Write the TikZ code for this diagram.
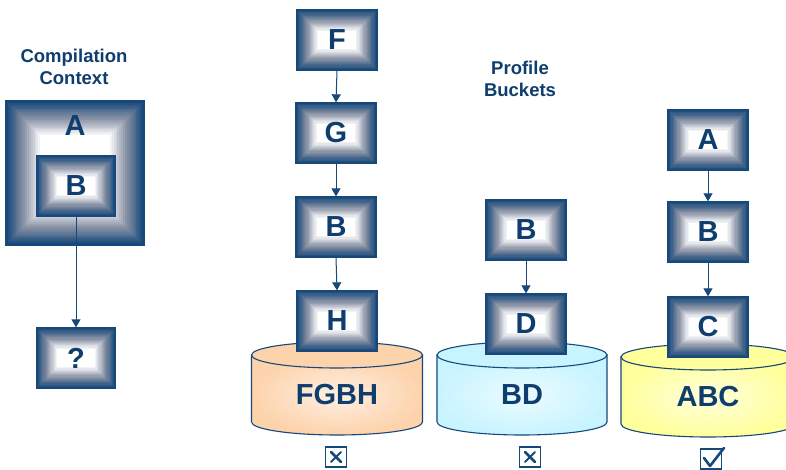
\documentclass[tikz,border=0pt]{standalone}
\usepackage{fontspec}
\setmainfont{Liberation Sans}
\usetikzlibrary{arrows.meta}
\definecolor{navy}{HTML}{17487A}
\definecolor{grayb}{HTML}{8A93A6}
\definecolor{txt}{HTML}{0E3D6E}
\definecolor{orangeb}{HTML}{FDD3AC}
\definecolor{cyanb}{HTML}{C8F4FF}
\definecolor{yellowb}{HTML}{FFFF9C}
\tikzset{
  gbox/.style={draw=navy, line width=1.3pt, minimum width=80pt, minimum height=60pt,
    inner sep=0pt, font=\fontsize{29}{32}\selectfont\bfseries, text=txt,
    path picture={
      \foreach \i in {0,...,23}{
        \pgfmathsetmacro\p{100*(1-\i/18)}
        \ifdim\p pt>50pt
          \pgfmathsetmacro\q{(\p-50)*2}
          \colorlet{bandc}{navy!\q!grayb}
        \else
          \ifdim\p pt<0pt \def\p{0}\fi
          \pgfmathsetmacro\q{\p*2}
          \colorlet{bandc}{grayb!\q!white}
        \fi
        \fill[bandc]
          ([xshift=\i*#1, yshift=\i*#1]path picture bounding box.south west) rectangle
          ([xshift=-\i*#1, yshift=-\i*#1]path picture bounding box.north east);
      }}},
  gbox/.default=1.15pt,
  conn/.style={draw=navy, line width=1pt, -{Triangle[length=8pt,width=9pt]}},
  head/.style={font=\fontsize{18.5}{22}\selectfont\bfseries, text=txt, align=center},
  blabel/.style={font=\fontsize{29}{32}\selectfont\bfseries, text=txt},
  chk/.style={draw=navy, line width=1.4pt, minimum width=21pt, minimum height=20pt, inner sep=0pt},
  tickmark/.style={draw=navy, line width=2.6pt, line cap=round, line join=round}
}
\newcommand\mybucket[8]{%
  \path[shade, inner color=white!65!#6, outer color=#6, draw=navy, line width=1.1pt]
    (#1-#4,#2) -- (#1-#4,#3)
    arc[start angle=180, end angle=360, x radius=#4pt, y radius=#5pt]
    -- (#1+#4,#2) -- cycle;
  \path[fill=#6, draw=navy, line width=1.1pt] (#1,#2) ellipse[x radius=#4pt, y radius=#5pt];
  \node[blabel] (#7) at (#1,#3-27) {#8};
}
\begin{document}
\begin{tikzpicture}[x=1pt,y=-1pt]
\clip (0,0) rectangle (786,470);
\fill[white] (0,0) rectangle (786,470);

% headings
\node[head] (hctx) at (74,67) {Compilation\\Context};
\node[head] (hpb) at (520,79) {Profile\\Buckets};

% compilation context
\node[gbox=1.9pt, minimum width=138pt, minimum height=144pt] (bigA) at (75,173) {};
\node[blabel] (lblA) at (75,126) {A};
\node[gbox=1.15pt, minimum width=79pt, minimum height=60pt] (cb) at (76,186) {B};
\node[gbox, minimum width=79pt, minimum height=60pt] (q) at (76,358) {?};
\draw[conn] (cb.south) -- (q.north);

% buckets
\mybucket{337}{355}{422}{85.5}{13}{orangeb}{lf}{FGBH}
\mybucket{522}{355}{422}{85}{13}{cyanb}{lb}{BD}
\mybucket{708}{357}{424}{87}{13}{yellowb}{lc}{ABC}

% column 1
\node[gbox] (f) at (337,40) {F};
\node[gbox] (g) at (336,133) {G};
\node[gbox] (b1) at (336,227) {B};
\node[gbox] (h) at (337,321) {H};
\draw[conn] (f.south) -- (g.north);
\draw[conn] (g.south) -- (b1.north);
\draw[conn] (b1.south) -- (h.north);

% column 2
\node[gbox] (b2) at (526,230) {B};
\node[gbox] (d) at (526,324) {D};
\draw[conn] (b2.south) -- (d.north);

% column 3
\node[gbox] (a3) at (708,140) {A};
\node[gbox] (b3) at (708,232) {B};
\node[gbox] (c3) at (708,327) {C};
\draw[conn] (a3.south) -- (b3.north);
\draw[conn] (b3.south) -- (c3.north);

% checkboxes
\node[chk] (x1) at (336,457) {};
\draw[tickmark] ([xshift=-5pt,yshift=5pt]x1.center) -- ([xshift=5pt,yshift=-5pt]x1.center);
\draw[tickmark, line width=2pt] ([xshift=-5pt,yshift=-5pt]x1.center) -- ([xshift=5pt,yshift=5pt]x1.center);
\node[chk] (x2) at (530,457) {};
\draw[tickmark] ([xshift=-5pt,yshift=5pt]x2.center) -- ([xshift=5pt,yshift=-5pt]x2.center);
\draw[tickmark, line width=2pt] ([xshift=-5pt,yshift=-5pt]x2.center) -- ([xshift=5pt,yshift=5pt]x2.center);
\node[chk] (x3) at (711,459) {};
\draw[tickmark] ([xshift=-7pt,yshift=1pt]x3.center) -- ([xshift=-1pt,yshift=-7pt]x3.center) -- ([xshift=13pt,yshift=11pt]x3.center);
\end{tikzpicture}
\end{document}
